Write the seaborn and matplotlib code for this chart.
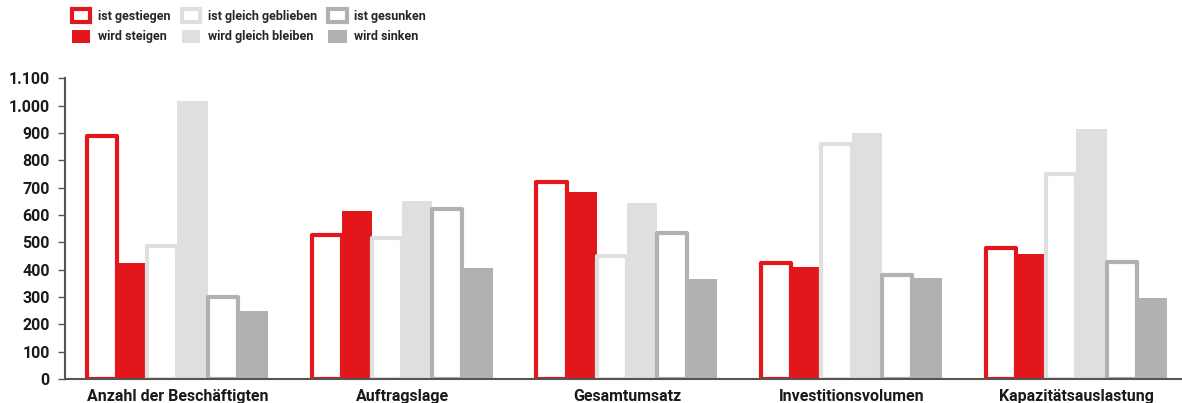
import matplotlib
matplotlib.use("Agg")
import matplotlib.pyplot as plt
import seaborn as sns
import pandas as pd
from matplotlib.patches import Patch
from matplotlib.ticker import FuncFormatter, MultipleLocator

categories = ["Anzahl der Beschäftigten", "Auftragslage", "Gesamtumsatz",
              "Investitionsvolumen", "Kapazitätsauslastung"]
series = ["ist gestiegen", "wird steigen", "ist gleich geblieben",
          "wird gleich bleiben", "ist gesunken", "wird sinken"]
ist_gestiegen = [890, 525, 720, 425, 480]
wird_steigen = [423, 614, 685, 410, 457]
ist_gleich_geblieben = [485, 515, 448, 860, 750]
wird_gleich_bleiben = [1015, 652, 644, 898, 914]
ist_gesunken = [300, 620, 535, 382, 428]
wird_sinken = [248, 406, 364, 368, 295]

values = [ist_gestiegen, wird_steigen, ist_gleich_geblieben,
          wird_gleich_bleiben, ist_gesunken, wird_sinken]

RED = "#E3161B"
LIGHT = "#DFDFDF"
GREY = "#B1B1B1"
colors = [RED, RED, LIGHT, LIGHT, GREY, GREY]
outlined = [True, False, True, False, True, False]

rows = []
for s, vals in zip(series, values):
    for c, v in zip(categories, vals):
        rows.append({"Kategorie": c, "Serie": s, "Wert": v})
df = pd.DataFrame(rows)

sns.set_theme(style="white")
plt.rcParams["font.family"] = ["Roboto", "DejaVu Sans"]

fig = plt.figure(figsize=(11.82, 4.03), dpi=100)
ax = fig.add_axes([0.055, 0.0596, 0.945, 0.7464])

sns.barplot(data=df, x="Kategorie", y="Wert", hue="Serie", order=categories,
            hue_order=series, palette=colors, width=0.805, gap=0,
            saturation=1, legend=False, ax=ax, errorbar=None)

for cont, col, out in zip(ax.containers, colors, outlined):
    for p in cont.patches:
        if out:
            p.set_facecolor("white")
            p.set_edgecolor(col)
            p.set_linewidth(3.0)
            p.set_joinstyle("round")
        else:
            p.set_facecolor(col)
            p.set_edgecolor("none")
            p.set_linewidth(0)

ax.set_ylim(0, 1100)
ax.set_xlim(-0.5, 4.47)
ax.yaxis.set_major_locator(MultipleLocator(100))
ax.yaxis.set_major_formatter(FuncFormatter(lambda v, p: f"{int(v):,}".replace(",", ".")))
ax.set_xlabel("")
ax.set_ylabel("")
for side in ["top", "right"]:
    ax.spines[side].set_visible(False)
for side in ["left", "bottom"]:
    ax.spines[side].set_color("#555555")
    ax.spines[side].set_linewidth(1.5)
ax.tick_params(axis="y", left=True, length=5, width=1, color="#555555",
               labelsize=11.5, pad=6)
ax.tick_params(axis="x", bottom=False, labelsize=11.5, pad=1)
for lab in ax.get_yticklabels() + ax.get_xticklabels():
    lab.set_fontweight("bold")
    lab.set_color("#1a1a1a")

handles = []
for s, col, out in zip(series, colors, outlined):
    if out:
        handles.append(Patch(facecolor="white", edgecolor=col, linewidth=3, label=s))
    else:
        handles.append(Patch(facecolor=col, edgecolor="none", label=s))
leg = fig.legend(handles=handles, ncol=3, loc="upper left",
                 bbox_to_anchor=(0.051, 1.005), frameon=False,
                 prop={"weight": "bold", "size": 9},
                 handlelength=1.5, handleheight=1.2, columnspacing=0.9,
                 handletextpad=0.6, labelspacing=0.55)

fig.savefig("out.png", dpi=100)
